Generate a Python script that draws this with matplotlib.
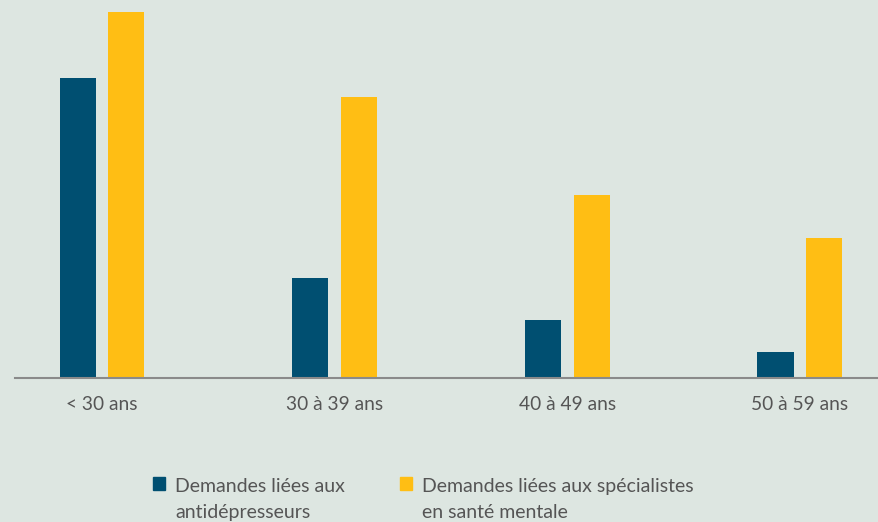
import numpy as np
import matplotlib
matplotlib.use("Agg")
import matplotlib.pyplot as plt
from matplotlib.patches import Rectangle

# données (hauteurs relatives)
categories = ["< 30 ans", "30 à 39 ans", "40 à 49 ans", "50 à 59 ans"]
antidepresseurs = [300, 100, 58, 26]
specialistes = [366, 281, 183, 140]
labels = ["Demandes liées aux\nantidépresseurs",
          "Demandes liées aux spécialistes\nen santé mentale"]

bg = "#dde6e1"
blue = "#004f71"
yellow = "#ffbe14"
txt = "#555555"

plt.rcParams['font.family'] = ['Lato', 'DejaVu Sans']

fig = plt.figure(figsize=(8.79, 5.22), dpi=100, facecolor=bg)
ax = fig.add_axes([15 / 879, 1 - 378 / 522, 1 - 15 / 879, 378 / 522])
ax.set_facecolor(bg)

x = np.arange(len(categories))
w = 0.155
off = 0.105
ax.bar(x - off, antidepresseurs, w, color=blue)
ax.bar(x + off, specialistes, w, color=yellow)

ax.set_xlim(-0.374, 3.34)
ax.set_ylim(0, 378)
ax.set_yticks([])
ax.set_xticks(x)
ax.set_xticklabels(categories, fontsize=13.8, color=txt)
ax.tick_params(axis='x', length=0, pad=13)
for s in ["top", "right", "left"]:
    ax.spines[s].set_visible(False)
ax.spines["bottom"].set_color("#8a8a8a")
ax.spines["bottom"].set_linewidth(1.5)

# légende faite à la main (carré aligné sur la première ligne)
W, H = 879, 522
for xs, col, lab in [(153, blue, labels[0]), (400, yellow, labels[1])]:
    fig.patches.append(Rectangle((xs / W, 1 - 490 / H), 12 / W, 13 / H,
                                 transform=fig.transFigure, color=col))
    for i, line in enumerate(lab.split("\n")):
        fig.text((xs + 22) / W, 1 - (492 + 26 * i) / H, line, fontsize=14,
                 color=txt, va="baseline", ha="left")

fig.savefig("out.png", dpi=100, facecolor=bg)
